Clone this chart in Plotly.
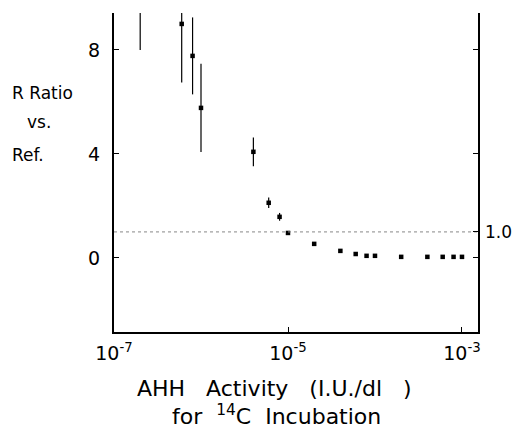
import plotly.graph_objects as go

# Data
activity = [2e-7, 6e-7, 8e-7, 1e-6, 4e-6, 6e-6, 8e-6, 1e-5, 2e-5, 4e-5, 6e-5, 8e-5,
            1e-4, 2e-4, 4e-4, 6e-4, 8e-4, 1e-3]
r_ratio = [9.8, 9.0, 7.77, 5.77, 4.08, 2.12, 1.58, 0.96, 0.54, 0.27, 0.15, 0.08,
           0.08, 0.04, 0.04, 0.04, 0.04, 0.04]
r_err = [1.8, 2.25, 1.48, 1.7, 0.55, 0.2, 0.15, 0, 0, 0, 0, 0, 0, 0, 0, 0, 0, 0]

x_ticks = [1e-7, 1e-5, 1e-3]
x_tick_text = ["10<sup>-7</sup>", "10<sup>-5</sup>", "10<sup>-3</sup>"]
y_ticks = [0, 4, 8]
y_tick_text = ["0", "4", "8"]
ref_level = 1.0
ref_label = "1.0"
right_ticks = [0, 1, 4, 8]

FONT = "DejaVu Sans"
yrange = [-2.85, 9.42]
xrange_log = [-7, -2.816]

W, H = 517, 428
ML, MR, MT, MB = 114, 39, 13, 96
PW, PH = W - ML - MR, H - MT - MB

fig = go.Figure()
fig.add_trace(go.Scatter(
    x=activity, y=r_ratio, mode="markers",
    marker=dict(color="black", size=4.5, symbol="square"),
    error_y=dict(type="data", array=r_err, visible=True, color="black",
                 thickness=1.2, width=0),
    showlegend=False, cliponaxis=True,
))
# dotted reference line at 1.0
fig.add_trace(go.Scatter(
    x=[10 ** xrange_log[0], 10 ** xrange_log[1]], y=[ref_level, ref_level],
    mode="lines", line=dict(color="#888888", width=1, dash="dot"),
    showlegend=False, hoverinfo="skip",
))
# invisible trace on right axis
fig.add_trace(go.Scatter(x=[1e-5], y=[0], yaxis="y2", mode="markers",
                         marker=dict(opacity=0), showlegend=False, hoverinfo="skip"))

fig.update_layout(
    width=W, height=H,
    margin=dict(l=ML, r=MR, t=MT, b=MB, autoexpand=False),
    paper_bgcolor="white", plot_bgcolor="white",
    font=dict(family=FONT, color="black", size=18),
    xaxis=dict(type="log", range=xrange_log, showgrid=False, zeroline=False,
               showline=True, linecolor="black", linewidth=2,
               ticks="inside", ticklen=5, tickcolor="black",
               tickvals=x_ticks, ticktext=x_tick_text, automargin=False,
               tickfont=dict(size=19, family=FONT), ticklabelstandoff=3),
    yaxis=dict(range=yrange, showgrid=False, zeroline=False,
               showline=True, linecolor="black", linewidth=2,
               ticks="inside", ticklen=5, tickcolor="black",
               tickvals=y_ticks, ticktext=y_tick_text, automargin=False,
               tickfont=dict(size=19, family=FONT), ticklabelstandoff=8),
    yaxis2=dict(range=yrange, overlaying="y", side="right", showgrid=False,
                zeroline=False, showline=True, linecolor="black", linewidth=2,
                ticks="inside", ticklen=5, tickcolor="black",
                tickvals=right_ticks, showticklabels=False, automargin=False),
)

def paper_x(px):
    return (px - ML) / PW

def paper_y(py):
    return (H - MB - py) / PH

fig.add_annotation(text=ref_label, xref="paper", yref="y2",
                   x=paper_x(483), y=ref_level, xanchor="left", yanchor="middle",
                   showarrow=False, font=dict(size=17, family=FONT))
fig.add_annotation(text="R Ratio", xref="paper", yref="paper",
                   x=paper_x(10), y=paper_y(93), xanchor="left", yanchor="middle",
                   showarrow=False, font=dict(size=17, family=FONT))
fig.add_annotation(text="vs.", xref="paper", yref="paper",
                   x=paper_x(39), y=paper_y(122), xanchor="center", yanchor="middle",
                   showarrow=False, font=dict(size=17, family=FONT))
fig.add_annotation(text="Ref.", xref="paper", yref="paper",
                   x=paper_x(10), y=paper_y(155), xanchor="left", yanchor="middle",
                   showarrow=False, font=dict(size=17, family=FONT))
fig.add_annotation(text="AHH   Activity   (I.U./dl   )", xref="paper", yref="paper",
                   x=paper_x(274), y=paper_y(388), xanchor="center", yanchor="middle",
                   showarrow=False, font=dict(size=22, family=FONT))
fig.add_annotation(text="for  <sup>14</sup>C  Incubation", xref="paper", yref="paper",
                   x=paper_x(276), y=paper_y(415), xanchor="center", yanchor="middle",
                   showarrow=False, font=dict(size=22, family=FONT))

fig.write_html(
    "out.html",
    config={"displayModeBar": False},
    post_script="document.body.style.margin='0';document.body.style.overflow='hidden';",
)
